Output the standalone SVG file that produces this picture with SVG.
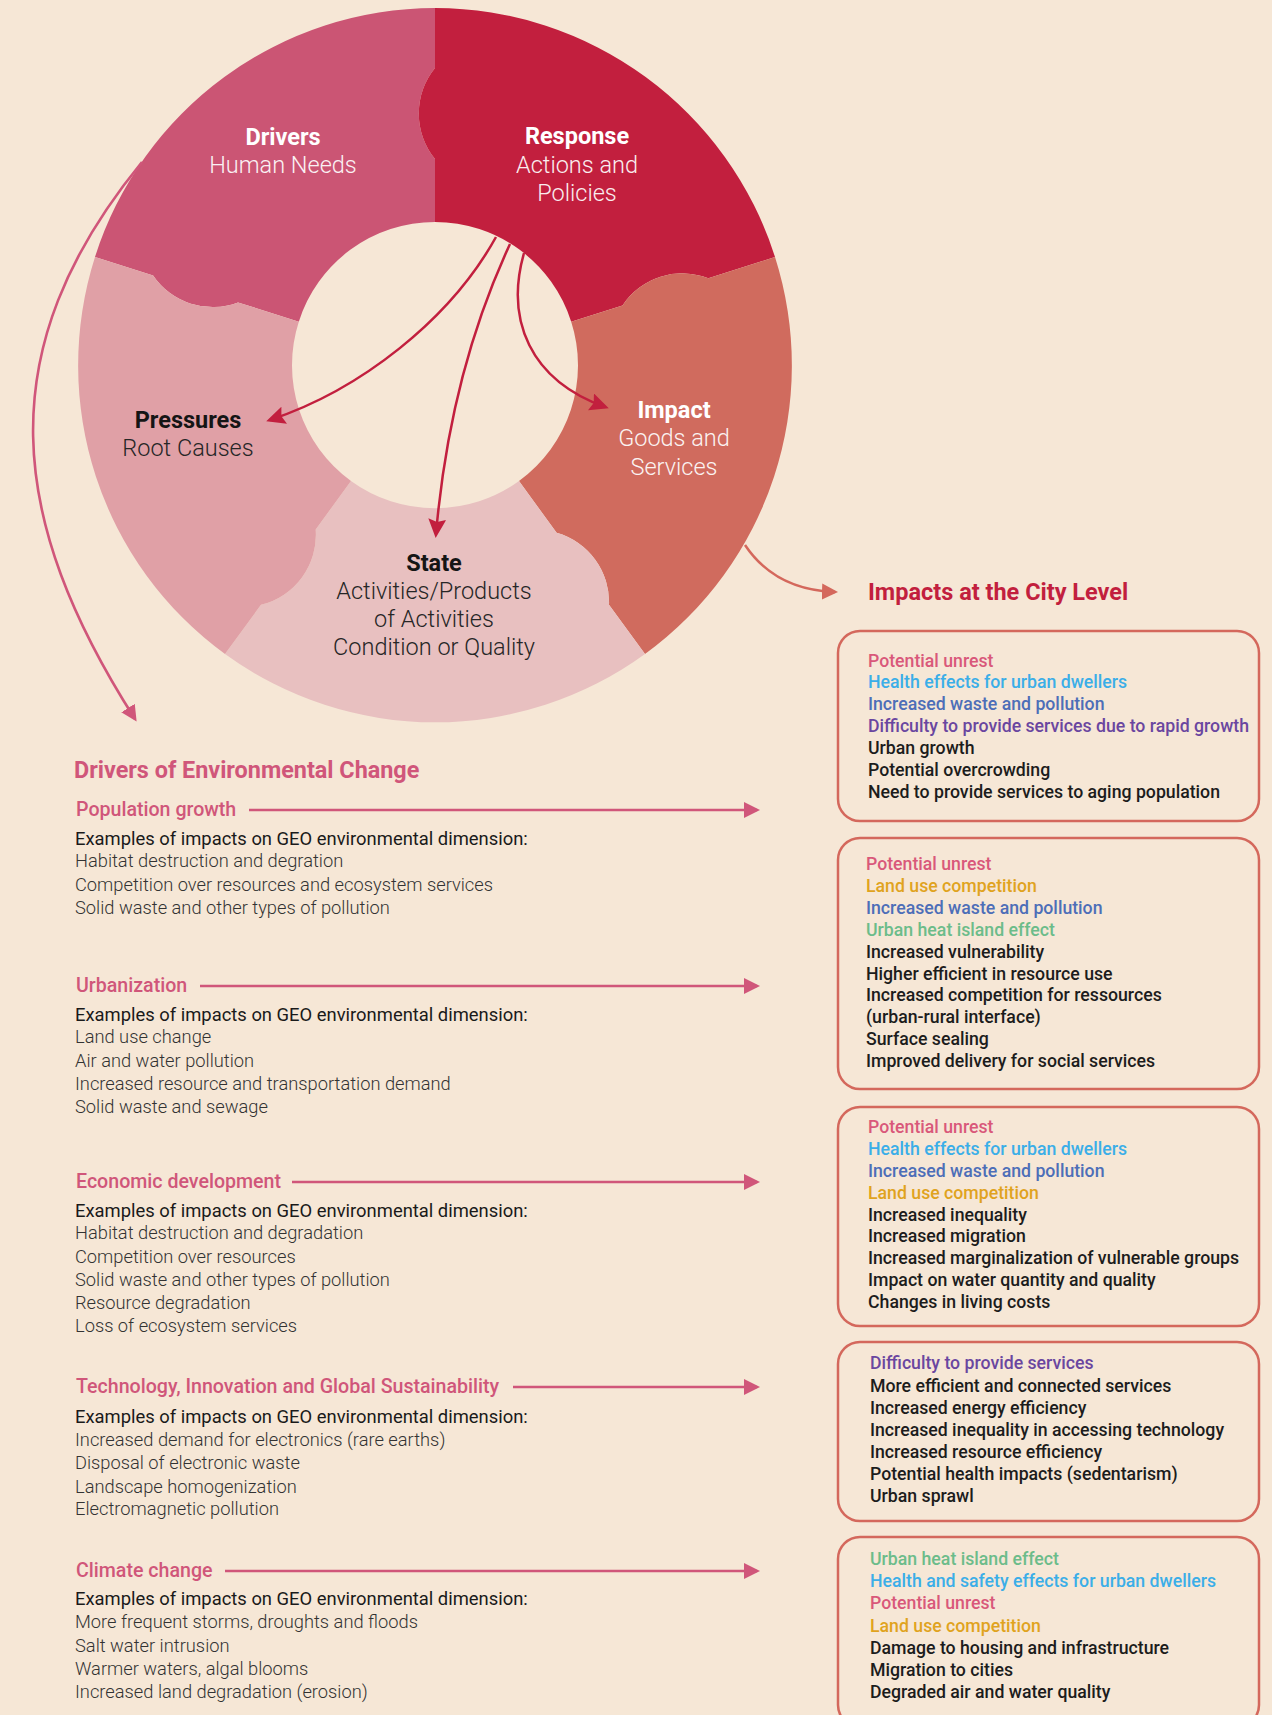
<svg xmlns="http://www.w3.org/2000/svg" width="1272" height="1715" viewBox="0 0 1272 1715">
<defs>
<style>
text{font-family:Roboto,"Liberation Sans",sans-serif}
.lb{font-weight:700;font-size:23.5px}
.ll{font-weight:300;font-size:23.5px}
.w{fill:#ffffff}
.d{fill:#151515}
.dl{fill:#262626}
.title{font-weight:700;font-size:23.4px;fill:#D0567A}
.sub{font-weight:500;font-size:19.6px;fill:#D0567A}
.ex{font-weight:400;font-size:18.4px;fill:#1a1a1a}
.it{font-weight:300;font-size:18.3px;fill:#333333}
.bx{font-weight:500;font-size:17.7px;fill:#1c1c1c}
.box{fill:none;stroke:#D4685C;stroke-width:2.5}
.cu{fill:#D9587A}.ch{fill:#3BAEE8}.cw{fill:#4D6EB8}.cd{fill:#6A46A0}.cl{fill:#E0A31E}.cg{fill:#6CBC8A}
.ar-in{fill:none;stroke:#C21F3E;stroke-width:2.5}
.ar-pk{fill:none;stroke:#D0567A;stroke-width:2.6}
.ar-co{fill:none;stroke:#D4685C;stroke-width:2.5}
</style>
<marker id="mRed" markerUnits="userSpaceOnUse" markerWidth="20" markerHeight="18" viewBox="0 0 20 18" refX="15" refY="9" orient="auto"><path d="M0,0 L19,9 L0,18 L3,9 Z" fill="#C21F3E"/></marker>
<marker id="mPink" markerUnits="userSpaceOnUse" markerWidth="18" markerHeight="18" viewBox="0 0 18 18" refX="13" refY="9" orient="auto"><path d="M0,1 L16,9 L0,17 Z" fill="#D0567A"/></marker>
<marker id="mCoral" markerUnits="userSpaceOnUse" markerWidth="18" markerHeight="18" viewBox="0 0 18 18" refX="13" refY="9" orient="auto"><path d="M0,1 L16,9 L0,17 Z" fill="#D4685C"/></marker>
</defs>
<rect width="1272" height="1715" fill="#F6E7D6"/>

<g id="node-drivers">
<path fill="#CB5574" d="M95,257 A357,357 0 0 1 435,8 L435,68 A72,72 0 0 0 435,159 L435,222 A143,143 0 0 0 298.8,321.7 L238,302.4 A72,72 0 0 1 153.1,275.5 Z"/>
<text class="lb w" x="283" y="145" text-anchor="middle">Drivers</text>
<text class="ll w" x="283" y="173" text-anchor="middle" opacity="0.92">Human Needs</text>
</g>
<g id="node-response">
<path fill="#C21F3E" d="M435,8 A357,357 0 0 1 775,257 L708.3,278.2 A72,72 0 0 0 622.5,305.4 L571.2,321.7 A143,143 0 0 0 435,222 L435,159 A72,72 0 0 1 435,68 Z"/>
<text class="lb w" x="577" y="144" text-anchor="middle">Response</text>
<text class="ll w" x="577" y="173" text-anchor="middle" opacity="0.92">Actions and</text>
<text class="ll w" x="577" y="201" text-anchor="middle" opacity="0.92">Policies</text>
</g>
<g id="node-impact">
<path fill="#D06B5E" d="M775,257 A357,357 0 0 1 645,654 L609,604.8 A72,72 0 0 0 556.6,532.8 L519,481 A143,143 0 0 0 571.2,321.7 L622.5,305.4 A72,72 0 0 1 708.3,278.2 Z"/>
<text class="lb w" x="674" y="418" text-anchor="middle">Impact</text>
<text class="ll w" x="674" y="446" text-anchor="middle" opacity="0.92">Goods and</text>
<text class="ll w" x="674" y="475" text-anchor="middle" opacity="0.92">Services</text>
</g>
<g id="node-state">
<path fill="#E8C0C0" d="M645,654 A357,357 0 0 1 225,654 L261,604.8 A72,72 0 0 0 315.7,529.5 L351,481 A143,143 0 0 0 519,481 L556.6,532.8 A72,72 0 0 1 609,604.8 Z"/>
<text class="lb d" x="434" y="571" text-anchor="middle">State</text>
<text class="ll dl" x="434" y="599" text-anchor="middle">Activities/Products</text>
<text class="ll dl" x="434" y="627" text-anchor="middle">of Activities</text>
<text class="ll dl" x="434" y="655" text-anchor="middle">Condition or Quality</text>
</g>
<g id="node-pressures">
<path fill="#E0A0A6" d="M225,654 A357,357 0 0 1 95,257 L153.1,275.5 A72,72 0 0 0 238,302.4 L298.8,321.7 A143,143 0 0 0 351,481 L315.7,529.5 A72,72 0 0 1 261,604.8 Z"/>
<text class="lb d" x="188" y="428" text-anchor="middle">Pressures</text>
<text class="ll dl" x="188" y="456" text-anchor="middle">Root Causes</text>
</g>

<g id="connectors">
<path class="ar-in" d="M496,237 C450,320 360,390 270,420" marker-end="url(#mRed)"/>
<path class="ar-in" d="M510,244 C470,330 445,430 436,534" marker-end="url(#mRed)"/>
<path class="ar-in" d="M524,253 C505,320 530,380 605,407" marker-end="url(#mRed)"/>
<path class="ar-pk" d="M142,162 C-12,350 8,520 135,719" marker-end="url(#mPink)"/>
<path class="ar-co" d="M745,545 Q775,590 835,592" marker-end="url(#mCoral)"/>
<line class="ar-pk" x1="249" y1="810" x2="757" y2="810" marker-end="url(#mPink)"/>
<line class="ar-pk" x1="200" y1="986" x2="757" y2="986" marker-end="url(#mPink)"/>
<line class="ar-pk" x1="292" y1="1182" x2="757" y2="1182" marker-end="url(#mPink)"/>
<line class="ar-pk" x1="513" y1="1387" x2="757" y2="1387" marker-end="url(#mPink)"/>
<line class="ar-pk" x1="225" y1="1571" x2="757" y2="1571" marker-end="url(#mPink)"/>
</g>

<g id="drivers-list">
<text class="title" x="74" y="778">Drivers of Environmental Change</text>
</g>
<g id="driver-population">
<text class="sub" x="76" y="816">Population growth</text>
<text class="ex" x="75" y="845">Examples of impacts on GEO environmental dimension:</text>
<text class="it" x="75" y="867">Habitat destruction and degration</text>
<text class="it" x="75" y="891">Competition over resources and ecosystem services</text>
<text class="it" x="75" y="914">Solid waste and other types of pollution</text>
</g>
<g id="driver-urbanization">
<text class="sub" x="76" y="992">Urbanization</text>
<text class="ex" x="75" y="1021">Examples of impacts on GEO environmental dimension:</text>
<text class="it" x="75" y="1043">Land use change</text>
<text class="it" x="75" y="1067">Air and water pollution</text>
<text class="it" x="75" y="1090">Increased resource and transportation demand</text>
<text class="it" x="75" y="1113">Solid waste and sewage</text>
</g>
<g id="driver-economic">
<text class="sub" x="76" y="1188">Economic development</text>
<text class="ex" x="75" y="1217">Examples of impacts on GEO environmental dimension:</text>
<text class="it" x="75" y="1239">Habitat destruction and degradation</text>
<text class="it" x="75" y="1263">Competition over resources</text>
<text class="it" x="75" y="1286">Solid waste and other types of pollution</text>
<text class="it" x="75" y="1309">Resource degradation</text>
<text class="it" x="75" y="1332">Loss of ecosystem services</text>
</g>
<g id="driver-technology">
<text class="sub" x="76" y="1393">Technology, Innovation and Global Sustainability</text>
<text class="ex" x="75" y="1423">Examples of impacts on GEO environmental dimension:</text>
<text class="it" x="75" y="1446">Increased demand for electronics (rare earths)</text>
<text class="it" x="75" y="1469">Disposal of electronic waste</text>
<text class="it" x="75" y="1493">Landscape homogenization</text>
<text class="it" x="75" y="1515">Electromagnetic pollution</text>
</g>
<g id="driver-climate">
<text class="sub" x="76" y="1577">Climate change</text>
<text class="ex" x="75" y="1605">Examples of impacts on GEO environmental dimension:</text>
<text class="it" x="75" y="1628">More frequent storms, droughts and floods</text>
<text class="it" x="75" y="1652">Salt water intrusion</text>
<text class="it" x="75" y="1675">Warmer waters, algal blooms</text>
<text class="it" x="75" y="1698">Increased land degradation (erosion)</text>
</g>

<g id="impacts-title">
<text class="lb" x="868" y="600" fill="#C21F3E">Impacts at the City Level</text>
</g>
<g id="impact-box-1">
<rect class="box" x="838" y="631" width="421" height="190" rx="22"/>
<text class="bx cu" x="868" y="667">Potential unrest</text>
<text class="bx ch" x="868" y="688">Health effects for urban dwellers</text>
<text class="bx cw" x="868" y="710">Increased waste and pollution</text>
<text class="bx cd" x="868" y="732">Difficulty to provide services due to rapid growth</text>
<text class="bx" x="868" y="754">Urban growth</text>
<text class="bx" x="868" y="776">Potential overcrowding</text>
<text class="bx" x="868" y="798">Need to provide services to aging population</text>
</g>
<g id="impact-box-2">
<rect class="box" x="838" y="838" width="421" height="251" rx="22"/>
<text class="bx cu" x="866" y="870">Potential unrest</text>
<text class="bx cl" x="866" y="892">Land use competition</text>
<text class="bx cw" x="866" y="914">Increased waste and pollution</text>
<text class="bx cg" x="866" y="936">Urban heat island effect</text>
<text class="bx" x="866" y="958">Increased vulnerability</text>
<text class="bx" x="866" y="980">Higher efficient in resource use</text>
<text class="bx" x="866" y="1001">Increased competition for ressources</text>
<text class="bx" x="866" y="1023">(urban-rural interface)</text>
<text class="bx" x="866" y="1045">Surface sealing</text>
<text class="bx" x="866" y="1067">Improved delivery for social services</text>
</g>
<g id="impact-box-3">
<rect class="box" x="838" y="1107" width="421" height="219" rx="22"/>
<text class="bx cu" x="868" y="1133">Potential unrest</text>
<text class="bx ch" x="868" y="1155">Health effects for urban dwellers</text>
<text class="bx cw" x="868" y="1177">Increased waste and pollution</text>
<text class="bx cl" x="868" y="1199">Land use competition</text>
<text class="bx" x="868" y="1221">Increased inequality</text>
<text class="bx" x="868" y="1242">Increased migration</text>
<text class="bx" x="868" y="1264">Increased marginalization of vulnerable groups</text>
<text class="bx" x="868" y="1286">Impact on water quantity and quality</text>
<text class="bx" x="868" y="1308">Changes in living costs</text>
</g>
<g id="impact-box-4">
<rect class="box" x="838" y="1342" width="421" height="179" rx="22"/>
<text class="bx cd" x="870" y="1369">Difficulty to provide services</text>
<text class="bx" x="870" y="1392">More efficient and connected services</text>
<text class="bx" x="870" y="1414">Increased energy efficiency</text>
<text class="bx" x="870" y="1436">Increased inequality in accessing technology</text>
<text class="bx" x="870" y="1458">Increased resource efficiency</text>
<text class="bx" x="870" y="1480">Potential health impacts (sedentarism)</text>
<text class="bx" x="870" y="1502">Urban sprawl</text>
</g>
<g id="impact-box-5">
<rect class="box" x="838" y="1537" width="421" height="190" rx="22"/>
<text class="bx cg" x="870" y="1565">Urban heat island effect</text>
<text class="bx ch" x="870" y="1587">Health and safety effects for urban dwellers</text>
<text class="bx cu" x="870" y="1609">Potential unrest</text>
<text class="bx cl" x="870" y="1632">Land use competition</text>
<text class="bx" x="870" y="1654">Damage to housing and infrastructure</text>
<text class="bx" x="870" y="1676">Migration to cities</text>
<text class="bx" x="870" y="1698">Degraded air and water quality</text>
</g>
</svg>
